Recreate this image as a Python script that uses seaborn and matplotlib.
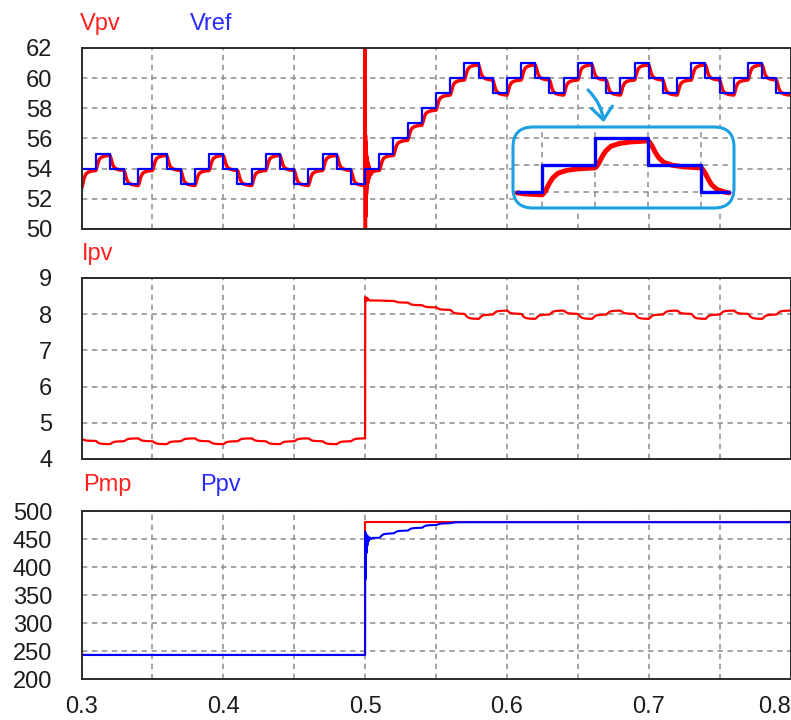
import numpy as np
import matplotlib
matplotlib.use("Agg")
import matplotlib.pyplot as plt
import seaborn as sns
from matplotlib.patches import FancyBboxPatch, FancyArrowPatch
from matplotlib.transforms import IdentityTransform

# ---------------------------------------------------------------------------
# Recorded MPPT run: perturb & observe with a 0.01 s update period,
# irradiance step at t = 0.5 s.
# ---------------------------------------------------------------------------
t_start = 0.30
t_end = 0.80
step_period = 0.01
irradiance_step_time = 0.50
irradiance_step_index = 20          # first MPPT period after the step

# Reference voltage held during each MPPT period (V)
vref_levels = [54, 55, 54, 53, 54, 55, 54, 53, 54, 55, 54, 53, 54, 55, 54, 53,
               54, 55, 54, 53,
               54, 55, 56, 57, 58, 59,
               60, 61, 60, 59, 60, 61, 60, 59, 60, 61, 60, 59,
               60, 61, 60, 59, 60, 61, 60, 59, 60, 61, 60, 59]

# Settled PV current in each MPPT period (A)
ipv_levels = [4.50, 4.41, 4.49, 4.57, 4.49, 4.41, 4.49, 4.57, 4.49, 4.41,
              4.49, 4.57, 4.49, 4.41, 4.49, 4.57, 4.49, 4.41, 4.49, 4.57,
              8.38, 8.37, 8.32, 8.25, 8.19, 8.12,
              8.01, 7.87, 7.99, 8.10, 8.01, 7.87, 7.99, 8.10, 8.01, 7.87,
              7.99, 8.10, 8.01, 7.87, 7.99, 8.10, 8.01, 7.87, 7.99, 8.10,
              8.01, 7.87, 7.99, 8.10]

# Settled PV power in each MPPT period (W)
ppv_levels = [243, 243, 243, 243, 243, 243, 243, 243, 243, 243,
              243, 243, 243, 243, 243, 243, 243, 243, 243, 243,
              452, 460, 465, 470, 475, 478,
              480, 480, 480, 480, 480, 480, 480, 480, 480, 480,
              480, 480, 480, 480, 480, 480, 480, 480, 480, 480,
              480, 480, 480, 480]

# Maximum available power before / after the irradiance step (W)
pmp_times = [0.30, 0.50, 0.80]
pmp_levels = [243, 480]

# Values at the start of the record and right after the irradiance step
vpv_start = {0: 52.8}
ipv_start = {0: 4.56, irradiance_step_index: 8.38}
ppv_start = {0: 243, irradiance_step_index: 452}
vpv_tracking_error = -0.12   # Vpv settles slightly under Vref

# Converter response to a reference step (fraction of the step completed)
response_time = [0, 0.0003, 0.0008, 0.0013, 0.002, 0.003, 0.0045, 0.0065, 0.01]
response_frac = [0, 0.05, 0.20, 0.40, 0.62, 0.80, 0.90, 0.96, 1.0]

# Transients just after the irradiance step (time after step, value)
vpv_tr_time = [0, 0.0001, 0.0002, 0.0003, 0.0004, 0.0005, 0.0006, 0.0007,
               0.0008, 0.0009, 0.0010, 0.0012, 0.0014, 0.0016, 0.0018,
               0.0020, 0.0023, 0.0026, 0.0030, 0.0035, 0.0040, 0.0046]
vpv_tr_value = [52.9, 64.0, 46.0, 56.2, 50.8, 55.8, 51.4, 55.3, 51.9, 55.0,
                52.3, 54.8, 52.7, 54.6, 53.0, 54.4, 53.2, 54.2, 53.4, 54.0,
                53.6, 53.7]
ipv_tr_time = [0, 0.0001, 0.0003, 0.0005, 0.0008, 0.0012, 0.0016, 0.0020,
               0.0025, 0.0030]
ipv_tr_value = [4.57, 8.47, 8.36, 8.46, 8.37, 8.45, 8.38, 8.43, 8.39, 8.38]
ppv_tr_time = [0, 0.0001, 0.0002, 0.0003, 0.0004, 0.0005, 0.0006, 0.0008,
               0.0010, 0.0013, 0.0016, 0.0020, 0.0025, 0.0030, 0.0040, 0.0050]
ppv_tr_value = [243, 463, 378, 460, 392, 458, 410, 456, 425, 457, 438, 455,
                446, 453, 450, 452]

# Zoomed view of one perturbation cycle
inset_window = (0.6353, 0.6753)

# Axis tick values and labels
x_grid = [0.30, 0.35, 0.40, 0.45, 0.50, 0.55, 0.60, 0.65, 0.70, 0.75, 0.80]
x_tick_labels = ["0.3", "", "0.4", "", "0.5", "", "0.6", "", "0.7", "", "0.8"]
v_ticks = [50, 52, 54, 56, 58, 60, 62]
i_ticks = [4, 5, 6, 7, 8, 9]
p_ticks = [200, 250, 300, 350, 400, 450, 500]

# ---------------------------------------------------------------------------
# Build the time series
# ---------------------------------------------------------------------------
t = np.round(np.arange(t_start, t_end + 1e-9, 0.0001), 5)
n_steps = len(vref_levels)
edges = t_start + step_period * np.arange(n_steps + 1)
step_idx = np.clip(np.floor((t - t_start) / step_period + 1e-6).astype(int),
                   0, n_steps - 1)


def lagged(levels, starts):
    out = np.empty_like(t)
    prev = None
    for k, lvl in enumerate(levels):
        if k in starts:
            prev = starts[k]
        m = step_idx == k
        frac = np.interp(t[m] - edges[k], response_time, response_frac)
        out[m] = prev + (lvl - prev) * frac
        prev = lvl
    return out


def add_transient(series, tr_time, tr_value):
    dt = t - irradiance_step_time
    m = (dt >= -1e-9) & (dt <= tr_time[-1] + 1e-9)
    series[m] = np.interp(dt[m], tr_time, tr_value)
    return series


vpv = lagged(vref_levels, vpv_start) + vpv_tracking_error
vpv = add_transient(vpv, vpv_tr_time, vpv_tr_value)
ipv = add_transient(lagged(ipv_levels, ipv_start), ipv_tr_time, ipv_tr_value)
ppv = add_transient(lagged(ppv_levels, ppv_start), ppv_tr_time, ppv_tr_value)

vref_x = np.repeat(edges, 2)[1:-1]
vref_y = np.repeat(vref_levels, 2)
pmp_x = np.repeat(pmp_times, 2)[1:-1]
pmp_y = np.repeat(pmp_levels, 2)


def vref_at(x):
    k = min(int(np.floor((x - t_start) / step_period + 1e-6)), n_steps - 1)
    return vref_levels[k]


w0, w1 = inset_window
inside = (vref_x > w0) & (vref_x < w1)
inset_vref_x = np.concatenate([[w0], vref_x[inside], [w1]])
inset_vref_y = np.concatenate([[vref_at(w0)], vref_y[inside], [vref_at(w1)]])
m_in = (t >= w0) & (t <= w1)

# ---------------------------------------------------------------------------
# Figure
# ---------------------------------------------------------------------------
sns.set_theme(style="white")
plt.rcParams["font.family"] = ["Liberation Sans", "DejaVu Sans"]

W, H = 791, 720
fig = plt.figure(figsize=(W / 100, H / 100), dpi=100)
fig.patch.set_facecolor("white")


def px_axes(left, top, right, bottom, **kw):
    return fig.add_axes([left / W, 1 - bottom / H, (right - left) / W,
                         (bottom - top) / H], **kw)


RED = "#ff0000"
BLUE = "#0000ff"
GRID = dict(color="#8c8c8c", linestyle=(0, (3.5, 3)), linewidth=1.1)
TICK_COLOR = "#1c1c1c"
ACCENT = "#1ba1e2"
FS = 17


def style(ax, ylim, yticks, show_x):
    ax.set_xlim(t_start, t_end)
    ax.set_ylim(*ylim)
    ax.set_xticks(x_grid)
    ax.set_xticklabels(x_tick_labels)
    ax.set_yticks(yticks)
    ax.set_yticklabels([str(v) for v in yticks])
    ax.grid(True, **GRID)
    ax.set_axisbelow(True)
    for s in ax.spines.values():
        s.set_color("#2b2b2b")
        s.set_linewidth(1.4)
    ax.tick_params(axis="y", length=0, pad=21, labelsize=FS,
                   labelcolor=TICK_COLOR)
    ax.tick_params(axis="x", length=0, pad=12, labelsize=FS,
                   labelcolor=TICK_COLOR, labelbottom=show_x)
    ax.set_xlabel("")
    ax.set_ylabel("")


ax_v = px_axes(81.5, 48, 790.5, 229)
ax_i = px_axes(81.5, 278, 790.5, 459)
ax_p = px_axes(81.5, 511, 790.5, 679)

# Voltage panel
sns.lineplot(x=t, y=vpv, ax=ax_v, color=RED, linewidth=2.5,
             estimator=None, sort=False)
sns.lineplot(x=vref_x, y=vref_y, ax=ax_v, color=BLUE, linewidth=1.6,
             estimator=None, sort=False)
style(ax_v, (50, 62), v_ticks, False)

# Current panel
sns.lineplot(x=t, y=ipv, ax=ax_i, color=RED, linewidth=1.6,
             estimator=None, sort=False)
style(ax_i, (4, 9), i_ticks, False)

# Power panel
sns.lineplot(x=pmp_x, y=pmp_y, ax=ax_p, color=RED, linewidth=1.5,
             estimator=None, sort=False)
sns.lineplot(x=t, y=ppv, ax=ax_p, color=BLUE, linewidth=1.5,
             estimator=None, sort=False)
style(ax_p, (200, 500), p_ticks, True)

# keep the last time label inside the figure
last_label = ax_p.get_xticklabels()[-1]
last_label.set_horizontalalignment("right")
last_label.set_x(0.8)

# Zoomed cycle inside a rounded frame
frame_fill = FancyBboxPatch((513, H - 208), 221, 81,
                            boxstyle="round,pad=0,rounding_size=20",
                            transform=IdentityTransform(), facecolor="white",
                            edgecolor="none", zorder=1)
frame_edge = FancyBboxPatch((513, H - 208), 221, 81,
                            boxstyle="round,pad=0,rounding_size=20",
                            transform=IdentityTransform(), facecolor="none",
                            edgecolor=ACCENT, linewidth=2.2, zorder=5)
fig.add_artist(frame_fill)
fig.add_artist(frame_edge)

ax_in = px_axes(514, 129, 732, 207, zorder=3)
ax_in.set_facecolor("none")
sns.lineplot(x=t[m_in], y=vpv[m_in], ax=ax_in, color=RED, linewidth=3.6,
             estimator=None, sort=False)
sns.lineplot(x=inset_vref_x, y=inset_vref_y, ax=ax_in, color=BLUE,
             linewidth=2.4, estimator=None, sort=False)
ax_in.set_xlim(0.63472, 0.67585)
ax_in.set_ylim(58.43, 61.32)
ax_in.set_xticks([0.64, 0.65, 0.66, 0.67])
ax_in.set_yticks([59, 60, 61])
ax_in.grid(True, **GRID)
ax_in.set_axisbelow(True)
ax_in.tick_params(length=0, labelbottom=False, labelleft=False)
ax_in.set_xlabel("")
ax_in.set_ylabel("")
for s in ax_in.spines.values():
    s.set_visible(False)

arrow = FancyArrowPatch(posA=(586, H - 88), posB=(604, H - 125),
                        transform=IdentityTransform(),
                        connectionstyle="arc3,rad=-0.2",
                        arrowstyle="->,head_length=0.6,head_width=0.5",
                        mutation_scale=15, color=ACCENT, linewidth=2.3,
                        zorder=5)
fig.add_artist(arrow)

# Signal names
label_kw = dict(fontsize=FS, va="baseline", ha="left")
fig.text(80 / W, 1 - 30 / H, "Vpv", color="#ff2020", **label_kw)
fig.text(190 / W, 1 - 30 / H, "Vref", color="#2a2aff", **label_kw)
fig.text(82 / W, 1 - 260 / H, "Ipv", color="#ff2020", **label_kw)
fig.text(83 / W, 1 - 491 / H, "Pmp", color="#ff2020", **label_kw)
fig.text(200 / W, 1 - 491 / H, "Ppv", color="#2a2aff", **label_kw)

fig.savefig("out.png", dpi=100, facecolor="white")
